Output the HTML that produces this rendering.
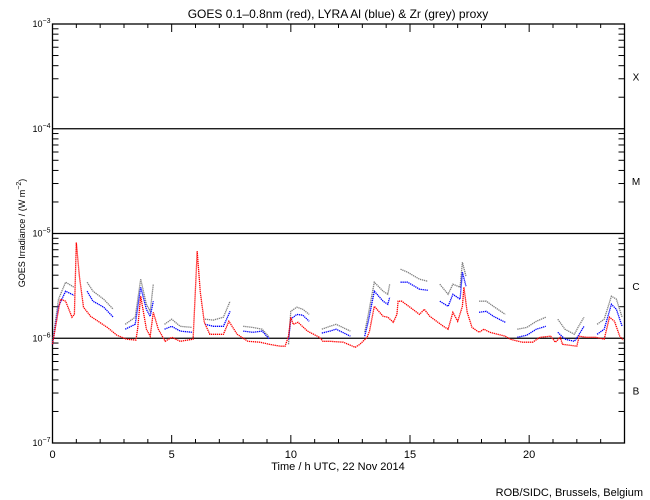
<!DOCTYPE html>
<html><head><meta charset="utf-8"><style>
html,body{margin:0;padding:0;background:#fff;}
svg{display:block;font-family:"Liberation Sans",sans-serif;}
</style></head><body>
<svg id="chart" width="650" height="500" viewBox="0 0 650 500" xmlns="http://www.w3.org/2000/svg">
<rect width="650" height="500" fill="#fff"/>
<text x="338" y="18" font-size="12" text-anchor="middle">GOES 0.1–0.8nm (red), LYRA Al (blue) &amp; Zr (grey) proxy</text>
<text x="338" y="470" font-size="11" text-anchor="middle">Time / h UTC, 22 Nov 2014</text>
<text x="643" y="496" font-size="11" text-anchor="end">ROB/SIDC, Brussels, Belgium</text>
<text transform="translate(25,233) rotate(-90)" font-size="9" text-anchor="middle">GOES Irradiance / (W m<tspan dy="-4" font-size="7">−2</tspan><tspan dy="4">)</tspan></text>
<g id="grid"></g><g id="axes"></g><g id="series"></g>
</svg>
<script>
const xTickLabels=["0","5","10","15","20"];
const xTickValues=[0,5,10,15,20];
const yDecades=[-7,-6,-5,-4,-3];
const classLabels=["B","C","M","X"];
const redT=[0,0.33,0.55,0.82,0.92,1.0,1.13,1.3,1.6,2.3,2.7,3.1,3.5,3.57,3.7,3.94,4.1,4.23,4.44,4.73,5.0,5.36,5.9,6.07,6.2,6.37,6.6,7.17,7.4,7.75,8.2,8.7,9.1,9.55,9.76,9.9,10.0,10.1,10.3,10.7,11.2,11.35,11.64,12.2,12.7,12.9,13.2,13.3,13.5,13.87,14.07,14.3,14.45,14.5,14.65,15.0,15.4,15.6,15.83,16.4,16.6,16.8,17.0,17.2,17.26,17.4,17.6,17.9,18.1,18.35,19.0,19.2,19.7,20.15,20.45,20.9,21.1,21.3,21.4,22.0,22.1,22.4,22.8,23.15,23.37,23.58,23.8,23.95];
const redF=[8.8e-7,2.36e-6,2.26e-6,1.59e-6,1.69e-6,8.2e-6,3.9e-6,1.98e-6,1.62e-6,1.27e-6,1.07e-6,0.98e-6,0.96e-6,1.22e-6,2.52e-6,1.22e-6,1.045e-6,1.77e-6,1.22e-6,0.936e-6,1.02e-6,0.936e-6,0.98e-6,6.77e-6,2.75e-6,1.42e-6,1.09e-6,1.09e-6,1.45e-6,1.09e-6,0.936e-6,0.916e-6,0.876e-6,0.84e-6,0.84e-6,1.045e-6,1.59e-6,1.36e-6,1.42e-6,1.17e-6,1.02e-6,0.936e-6,0.936e-6,0.916e-6,0.82e-6,0.876e-6,1.02e-6,1.17e-6,2.02e-6,1.62e-6,1.59e-6,1.42e-6,1.69e-6,2.26e-6,2.26e-6,1.98e-6,1.69e-6,1.89e-6,1.62e-6,1.30e-6,1.22e-6,1.77e-6,1.45e-6,2.02e-6,3.07e-6,1.77e-6,1.27e-6,1.14e-6,1.22e-6,1.14e-6,1.045e-6,0.98e-6,0.916e-6,0.916e-6,1.02e-6,1.045e-6,0.916e-6,1.02e-6,0.876e-6,0.84e-6,1.045e-6,1.02e-6,1.02e-6,0.98e-6,1.59e-6,1.45e-6,1.045e-6,0.96e-6];
const lyraT=[0,0.25,0.55,0.9,null,1.45,1.7,2.15,2.55,null,3.05,3.47,3.7,3.94,4.1,4.23,null,4.7,5.0,5.36,5.86,null,6.4,6.75,7.17,7.45,null,8.0,8.4,8.8,9.1,null,9.9,10.0,10.25,10.5,10.77,null,11.3,11.64,11.9,12.5,null,13.1,13.25,13.5,13.87,14.07,14.15,null,14.6,14.9,15.4,15.75,null,16.25,16.6,16.8,17.1,17.2,17.35,null,17.9,18.2,18.5,19.0,null,19.5,19.9,20.3,20.7,null,21.2,21.5,21.9,22.05,22.3,null,22.85,23.15,23.45,23.66,23.9];
const blueF=[0.876e-6,2.02e-6,2.81e-6,2.57e-6,null,2.81e-6,2.26e-6,1.98e-6,1.59e-6,null,1.22e-6,1.36e-6,3.07e-6,1.89e-6,1.62e-6,2.26e-6,null,1.22e-6,1.30e-6,1.17e-6,1.14e-6,null,1.36e-6,1.30e-6,1.30e-6,1.81e-6,null,1.17e-6,1.14e-6,1.17e-6,0.98e-6,null,0.98e-6,1.52e-6,1.69e-6,1.66e-6,1.45e-6,null,1.12e-6,1.17e-6,1.22e-6,1.045e-6,null,1.045e-6,1.45e-6,2.81e-6,2.26e-6,2.11e-6,2.46e-6,null,3.43e-6,3.43e-6,2.94e-6,2.87e-6,null,2.26e-6,2.02e-6,2.63e-6,2.36e-6,4.27e-6,3.14e-6,null,1.77e-6,1.81e-6,1.62e-6,1.42e-6,null,1.02e-6,1.07e-6,1.22e-6,1.30e-6,null,1.14e-6,0.98e-6,0.936e-6,1.045e-6,1.30e-6,null,1.09e-6,1.22e-6,2.11e-6,1.89e-6,1.30e-6];
const greyF=[0.916e-6,2.36e-6,3.43e-6,3.07e-6,null,3.43e-6,2.81e-6,2.36e-6,1.89e-6,null,1.36e-6,1.59e-6,3.66e-6,2.11e-6,1.81e-6,3.28e-6,null,1.36e-6,1.52e-6,1.30e-6,1.27e-6,null,1.52e-6,1.49e-6,1.59e-6,2.26e-6,null,1.30e-6,1.27e-6,1.22e-6,1.02e-6,null,0.876e-6,1.81e-6,1.98e-6,1.89e-6,1.69e-6,null,1.22e-6,1.30e-6,1.36e-6,1.17e-6,null,1.14e-6,1.69e-6,3.43e-6,2.81e-6,2.63e-6,3.28e-6,null,4.56e-6,4.27e-6,3.66e-6,3.50e-6,null,3.28e-6,2.63e-6,3.28e-6,3.07e-6,5.31e-6,3.9e-6,null,2.26e-6,2.26e-6,2.02e-6,1.69e-6,null,1.22e-6,1.27e-6,1.45e-6,1.59e-6,null,1.52e-6,1.22e-6,1.09e-6,1.27e-6,1.59e-6,null,1.36e-6,1.52e-6,2.52e-6,2.36e-6,1.59e-6];

const NS="http://www.w3.org/2000/svg";
const X0=52.5,X1=624.5,Y0=443,Y1=24;
function xs(t){return X0+(t/24)*(X1-X0);}
function ys(f){return Y0-(Math.log10(f)+7)/4*(Y0-Y1);}
function mk(tag,attrs,parent){const e=document.createElementNS(NS,tag);for(const k in attrs)e.setAttribute(k,attrs[k]);parent.appendChild(e);return e;}
const axes=document.getElementById('axes'),grid=document.getElementById('grid'),ser=document.getElementById('series');

const frame=mk('rect',{x:X0,y:Y1,width:X1-X0,height:Y0-Y1,fill:'none',stroke:'#000','stroke-width':1.3},axes);



for(const d of [-6,-5,-4]){
  const l=mk('line',{x1:X0,x2:X1,y1:ys(Math.pow(10,d)),y2:ys(Math.pow(10,d)),stroke:'#000','stroke-width':1.3},grid);
  
  
}
for(let d=-7;d<-3;d++){
  for(let m=2;m<=9;m++){
    const y=ys(m*Math.pow(10,d));
    for(const [x,dir] of [[X0,1],[X1,-1]]){
      const t=mk('line',{x1:x,x2:x+dir*6,y1:y,y2:y,stroke:'#000','stroke-width':1},axes);
      
      
    }
  }
}
yDecades.forEach(d=>{
  const y=ys(Math.pow(10,d));
  const tx=mk('text',{x:X0-2,y:y+3,'font-size':9,'text-anchor':'end'},axes);
  
  
  tx.innerHTML='10<tspan dy="-4" font-size="7">−'+(-d)+'</tspan>';
});
classLabels.forEach((c,i)=>{
  const y=ys(Math.pow(10,-6.5+i));
  const tx=mk('text',{x:636,y:y+4,'font-size':10,'text-anchor':'middle'},axes);
  
  
  tx.textContent=c;
});
for(let h=1;h<24;h++){
  const len=(h%5===0)?8:4;
  for(const [y,dir] of [[Y0,-1],[Y1,1]]){
    const t=mk('line',{x1:xs(h),x2:xs(h),y1:y,y2:y+dir*len,stroke:'#000','stroke-width':1},axes);
    
    
  }
}
xTickValues.forEach((v,i)=>{
  const tx=mk('text',{x:xs(v),y:458,'font-size':11,'text-anchor':'middle'},axes);
  
  
  tx.textContent=xTickLabels[i];
});
function pathOf(T,F){
  let d='',pen=false;
  for(let i=0;i<T.length;i++){
    if(T[i]===null||F[i]===null){pen=false;continue;}
    d+=(pen?'L':'M')+xs(T[i]).toFixed(1)+' '+ys(F[i]).toFixed(1);pen=true;
  }
  return d;
}
const g=mk('path',{d:pathOf(lyraT,greyF),fill:'none',stroke:'#808080','stroke-width':1.3,'stroke-dasharray':'1.3 0.7'},ser);


const b=mk('path',{d:pathOf(lyraT,blueF),fill:'none',stroke:'#0000ff','stroke-width':1.3,'stroke-dasharray':'1.3 0.7'},ser);


const r=mk('path',{d:pathOf(redT,redF),fill:'none',stroke:'#ff0000','stroke-width':1.3,'stroke-dasharray':'1.3 0.7'},ser);


</script>
</body></html>
